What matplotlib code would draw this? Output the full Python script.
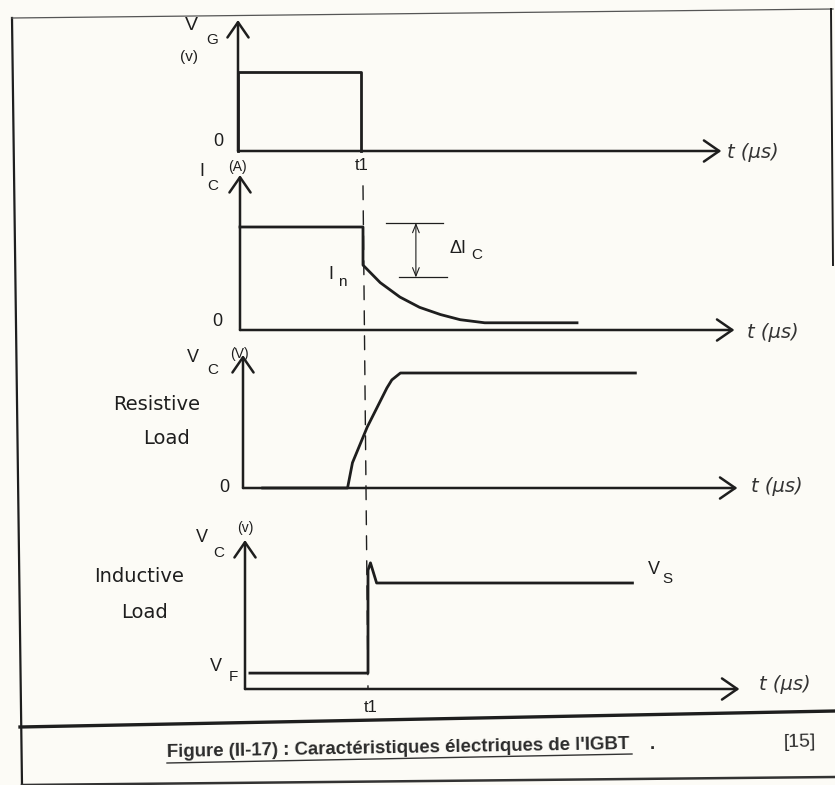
import matplotlib
matplotlib.use("Agg")
import matplotlib.pyplot as plt
from matplotlib.patches import ConnectionPatch

W, H = 835, 785
PX_T = 123.0            # pixels per time unit on every panel
INK = "#1e1e1e"
PAPER = "#fcfbf6"
SANS = ["Liberation Sans", "DejaVu Sans"]
WIDE = ["DejaVu Sans"]

T1 = 1.0

# gate voltage
vg_t = [0.0, 0.0, T1, T1]
vg_v = [0.0, 1.0, 1.0, 0.0]

# collector current, with the tail after t1
ic_t = [0.0, T1, T1, 1.14, 1.30, 1.46, 1.63, 1.79, 1.99, 2.74]
ic_v = [1.0, 1.0, 0.63, 0.46, 0.32, 0.22, 0.15, 0.10, 0.07, 0.07]
di_top_t, di_top = [1.19, 1.65], 1.04
di_bot_t, di_bot = [1.29, 1.68], 0.51
di_t = 1.43

# collector voltage, resistive load
vr_t = [0.16, 0.85, 0.89, 1.01, 1.09, 1.17, 1.21, 1.28, 3.19]
vr_v = [0.0, 0.0, 0.22, 0.53, 0.70, 0.87, 0.94, 1.0, 1.0]

# collector voltage, inductive load
VF = 0.15
vl_t = [0.04, T1, T1, 1.02, 1.07, 3.15]
vl_v = [VF, VF, 1.12, 1.19, 1.0, 1.0]

fig = plt.figure(figsize=(W / 100, H / 100), dpi=100, facecolor=PAPER)

# page frame and caption, in pixel units
bg = fig.add_axes([0, 0, 1, 1])
bg.set_xlim(0, W)
bg.set_ylim(H, 0)
bg.set_axis_off()
bg.plot([12, 22], [18, 785], color=INK, lw=1.6)
bg.plot([12, 833], [18, 9], color="#555", lw=0.9)
bg.plot([831, 833], [9, 265], color=INK, lw=1.4)
bg.plot([20, 835], [727, 711], color=INK, lw=2.4)
bg.plot([22, 835], [785, 777], color="#333", lw=1.8)
bg.text(167, 757, "Figure (II-17) : Caractéristiques électriques de l'IGBT",
        ha="left", va="baseline", rotation=1.0, rotation_mode="anchor",
        fontsize=13.4, fontweight="bold", family=SANS, color="#2b2b2b")
bg.plot([167, 632], [763, 754], color="#333", lw=1.0)
bg.text(650, 749, ".", ha="left", va="baseline", fontsize=13.4,
        fontweight="bold", family=SANS, color="#2b2b2b")
bg.text(800, 742, "[15]", ha="center", va="center", rotation=1.0,
        fontsize=14, family=SANS, color="#2b2b2b")


def panel(x0, base, tip, unit):
    ax = fig.add_axes([x0 / W, 1 - base / H, (W - x0) / W, (base - tip) / H])
    ax.set_xlim(0, (W - x0) / PX_T)
    ax.set_ylim(0, (base - tip) / unit)
    ax.set_axis_off()
    return ax


def axis_arrows(ax, t_end):
    ymax = ax.get_ylim()[1]
    style = dict(arrowstyle="->,head_length=0.55,head_width=0.38", lw=1.8,
                 color=INK, mutation_scale=20, shrinkA=0, shrinkB=0)
    ax.annotate("", xy=(t_end, 0), xytext=(0, 0), arrowprops=style,
                annotation_clip=False)
    ax.annotate("", xy=(0, ymax), xytext=(0, 0), arrowprops=style,
                annotation_clip=False)


def lab(ax, s, xy, dx, dy, size=13, ha="center", **kw):
    # dx, dy in pixels, dy counted downwards
    kw.setdefault("family", SANS)
    kw.setdefault("color", INK)
    ax.annotate(s, xy=xy, xytext=(dx * 0.72, -dy * 0.72),
                textcoords="offset points", ha=ha, va="center",
                fontsize=size, annotation_clip=False, **kw)


def time_label(ax, t_end, dx, dy):
    lab(ax, "t (μs)", (t_end, 0), dx, dy, size=14, ha="left",
        style="italic", family=WIDE, color="#333333")


ax1 = panel(238, 151, 20, 79)
ax2 = panel(240, 330, 175, 103)
ax3 = panel(243, 488, 355, 115)
ax4 = panel(245, 689, 540, 106)
t_ends = [3.93, 4.02, 4.02, 4.02]
for ax, te in zip([ax1, ax2, ax3, ax4], t_ends):
    axis_arrows(ax, te)

line = dict(color=INK, lw=2.0, solid_joinstyle="round", clip_on=False)

# VG
ax1.plot(vg_t, vg_v, **line)
y1 = ax1.get_ylim()[1]
lab(ax1, "V", (0, y1), -47, 5, size=14)
lab(ax1, "G", (0, y1), -26, 20, size=11)
lab(ax1, "(v)", (0, y1), -49, 37, size=11)
lab(ax1, "0", (0, 0), -20, -9)
lab(ax1, "t1", (T1, 0), 1, 14, size=12)
time_label(ax1, t_ends[0], 6, 1)

# IC
ax2.plot(ic_t, ic_v, **line)
ax2.plot(di_top_t, [di_top, di_top], color=INK, lw=0.9)
ax2.plot(di_bot_t, [di_bot, di_bot], color=INK, lw=0.9)
ax2.annotate("", xy=(di_t, di_top), xytext=(di_t, di_bot),
             arrowprops=dict(arrowstyle="<->,head_length=0.5,head_width=0.2",
                             lw=0.8, color=INK, mutation_scale=12,
                             shrinkA=0, shrinkB=0))
y2 = ax2.get_ylim()[1]
lab(ax2, "I", (0, y2), -38, -3, size=13)
lab(ax2, "C", (0, y2), -27, 11, size=11)
lab(ax2, "(A)", (0, y2), -3, -8, size=10)
lab(ax2, "0", (0, 0), -23, -8)
lab(ax2, "I", (T1, ic_v[2]), -32, 9, size=13)
lab(ax2, "n", (T1, ic_v[2]), -21, 17, size=11)
mid = (di_top + di_bot) / 2
lab(ax2, "ΔI", (di_t, mid), 42, -2, size=13)
lab(ax2, "C", (di_t, mid), 61, 5, size=11)
time_label(ax2, t_ends[1], 13, 3)

# VC resistive
ax3.plot(vr_t, vr_v, **line)
y3 = ax3.get_ylim()[1]
lab(ax3, "V", (0, y3), -50, 3, size=13)
lab(ax3, "C", (0, y3), -30, 15, size=11)
lab(ax3, "(V)", (0, y3), -4, -1, size=10)
lab(ax3, "Resistive", (0, 0), -86, -84, size=14, family=WIDE)
lab(ax3, "Load", (0, 0), -76, -50, size=14, family=WIDE)
lab(ax3, "0", (0, 0), -19, -1)
time_label(ax3, t_ends[2], 14, -1)

# VC inductive
ax4.plot(vl_t, vl_v, **line)
y4 = ax4.get_ylim()[1]
lab(ax4, "V", (0, y4), -43, -2, size=13)
lab(ax4, "C", (0, y4), -26, 13, size=11)
lab(ax4, "(v)", (0, y4), 0, -12, size=10)
lab(ax4, "Inductive", (0, 0), -106, -113, size=14, family=WIDE)
lab(ax4, "Load", (0, 0), -100, -77, size=14, family=WIDE)
lab(ax4, "V", (0, VF), -29, -7, size=13)
lab(ax4, "F", (0, VF), -12, 4, size=11)
lab(ax4, "t1", (T1, 0), 3, 18, size=12)
lab(ax4, "V", (vl_t[-1], vl_v[-1]), 21, -13, size=13)
lab(ax4, "S", (vl_t[-1], vl_v[-1]), 35, -4, size=11)
time_label(ax4, t_ends[3], 20, -4)

# t1 marker running down through the lower panels
con = ConnectionPatch(xyA=(T1, 1.4), coordsA=ax2.transData,
                      xyB=(T1, 0.0), coordsB=ax4.transData,
                      color=INK, lw=1.0, linestyle=(0, (10, 8)))
fig.add_artist(con)

fig.savefig("out.png", dpi=100, facecolor=PAPER)
